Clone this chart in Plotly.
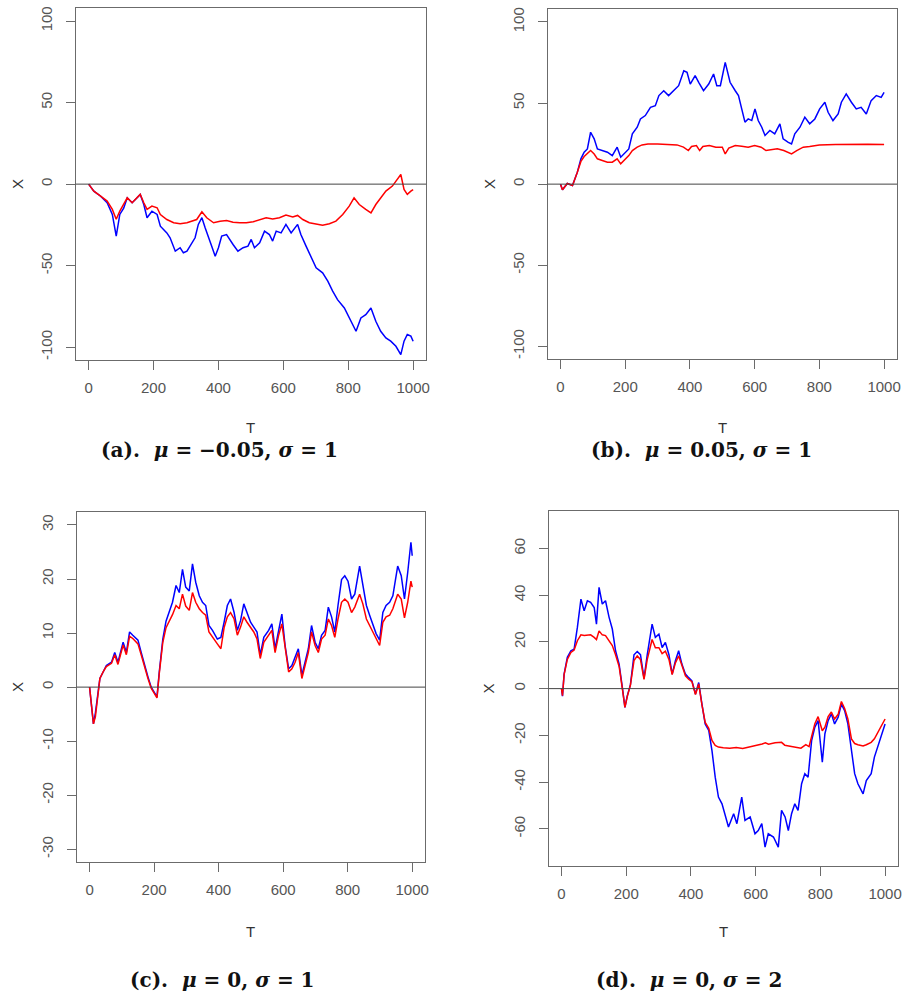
import plotly.graph_objects as go

# ---------------- data ----------------
# Panel (a): mu=-0.05, sigma=1
a_T_blue = [0, 16, 37, 57, 73, 85, 96, 108, 119, 134, 144, 159, 170, 180, 195, 211, 221, 241, 251, 267, 282, 292, 303, 318, 328, 338, 349, 359, 369, 379, 390, 400, 410, 425, 445, 460, 476, 491, 501, 511, 527, 542, 557, 567, 578, 593, 608, 624, 644, 654, 670, 686, 701, 721, 737, 752, 767, 788, 803, 824, 839, 854, 870, 885, 900, 916, 931, 947, 962, 972, 982, 993, 1000]
a_X_blue = [0, -4.3, -7.4, -11.4, -18.6, -31.9, -18.6, -14.8, -8.4, -11.4, -9.4, -6.3, -12.5, -20.6, -16.6, -18.6, -25.8, -29.9, -32.9, -41.1, -39, -42.1, -41.1, -36, -32.9, -24.7, -20.6, -26.8, -31.9, -38, -44.2, -39, -31.9, -30.9, -37, -41.1, -39, -38, -33.9, -39, -36, -28.8, -30.9, -34.9, -28.8, -29.9, -24.7, -29.9, -24.7, -30.9, -38, -45.2, -51.3, -54.4, -59.5, -65.6, -70.8, -75.9, -82, -90.2, -82, -80, -75.9, -84.1, -90.2, -94.3, -96.3, -99.4, -104.5, -96.3, -92.2, -93.2, -96.3]
a_T_red = [0, 16, 37, 57, 73, 85, 96, 108, 119, 134, 144, 159, 170, 180, 195, 211, 221, 241, 262, 282, 303, 333, 349, 364, 385, 405, 425, 445, 466, 486, 507, 527, 547, 567, 588, 608, 629, 644, 660, 680, 701, 721, 742, 762, 783, 803, 818, 834, 854, 870, 885, 900, 916, 936, 951, 962, 972, 982, 993, 1000]
a_X_red = [0, -4.3, -7.4, -10.4, -15.5, -21.5, -16.6, -12.5, -8.4, -11.4, -9.4, -6.3, -11.4, -15.5, -13.5, -14.5, -18.6, -21.7, -23.7, -24.3, -23.7, -21.7, -17, -20.6, -23.7, -22.7, -22.3, -23.3, -23.7, -23.7, -23.1, -21.7, -20.6, -21.3, -20.6, -19, -20.2, -19.2, -21.7, -23.7, -24.7, -25.2, -24.3, -22.7, -18.6, -13.5, -8.4, -12.5, -15.5, -17.6, -12.5, -8.4, -4.3, -1.2, 2.9, 5.9, -3.3, -6.3, -4.3, -3.3]

# Panel (b): mu=0.05, sigma=1
b_T_blue = [0, 6, 21, 37, 52, 63, 73, 83, 93, 104, 114, 129, 145, 160, 175, 186, 201, 211, 222, 237, 247, 262, 278, 293, 304, 319, 334, 350, 365, 381, 391, 401, 416, 427, 442, 458, 473, 483, 494, 509, 524, 540, 550, 560, 570, 580, 591, 601, 611, 622, 632, 647, 662, 678, 688, 704, 714, 724, 740, 755, 770, 786, 801, 817, 827, 842, 858, 868, 883, 899, 914, 929, 945, 960, 976, 991, 1000]
b_X_blue = [0, -3.5, 0.4, -0.8, 7.4, 15.6, 19.7, 21.7, 32, 27.9, 21.7, 20.7, 19.7, 17.6, 22.8, 16.6, 19.7, 21.7, 31, 35.1, 40.2, 42.3, 47.4, 48.4, 54.6, 57.6, 54.6, 57.6, 60.7, 69.9, 68.9, 61.7, 66.9, 62.8, 57.6, 61.7, 67.9, 60.7, 60.7, 75.1, 62.8, 57.6, 54.6, 46.4, 38.2, 40.2, 39.2, 46.4, 39.2, 35.1, 30, 33.1, 31, 37.2, 27.9, 25.8, 24.8, 31, 35.1, 41.3, 37.2, 40.2, 46.4, 50.5, 44.3, 39.2, 43.3, 50.5, 55.6, 50.5, 46.4, 47.4, 43.3, 51.5, 54.6, 53.5, 56.6]
b_T_red = [0, 6, 21, 37, 52, 63, 73, 83, 93, 104, 114, 129, 145, 160, 175, 186, 201, 211, 222, 237, 252, 270, 300, 330, 360, 380, 395, 405, 420, 430, 440, 460, 480, 500, 509, 520, 540, 560, 580, 600, 620, 635, 650, 670, 690, 714, 730, 750, 770, 800, 850, 900, 950, 1000]
b_X_red = [0, -3.5, 0.4, -0.8, 7.4, 14, 17, 19, 20.7, 18.6, 15.6, 14.6, 13.5, 13.5, 15.6, 12.5, 15.6, 17.6, 20.7, 22.8, 24.2, 24.8, 24.8, 24.4, 24.2, 22.8, 20.7, 23.2, 23.8, 20.7, 23.2, 23.8, 22.8, 22.8, 18.6, 22.2, 23.8, 23.4, 22.8, 23.8, 22.8, 20.7, 21.3, 21.8, 20.7, 18.6, 20.7, 22.8, 23.2, 24.2, 24.4, 24.6, 24.6, 24.4]

# Panel (c): mu=0, sigma=1
c_T_blue = [0, 6, 12, 18, 32, 42, 52, 68, 78, 88, 104, 114, 124, 134, 150, 160, 170, 181, 191, 201, 209, 216, 227, 237, 247, 257, 268, 278, 288, 298, 309, 319, 329, 340, 350, 360, 370, 381, 396, 407, 417, 427, 437, 448, 458, 468, 478, 488, 499, 509, 519, 529, 540, 555, 565, 575, 586, 596, 606, 617, 627, 637, 647, 658, 668, 678, 688, 699, 709, 719, 730, 740, 750, 760, 770, 781, 791, 801, 812, 822, 837, 847, 858, 868, 878, 888, 899, 909, 919, 930, 940, 955, 966, 976, 986, 996, 1000]
c_X_blue = [0, -3.5, -6.8, -4.8, 1.6, 2.8, 4, 4.6, 6.4, 4.6, 8.3, 6.4, 10.2, 9.6, 8.7, 6.4, 4, 1.9, 0, -0.9, -1.8, 2.8, 8.9, 12.2, 13.8, 15.7, 18.8, 17.5, 21.8, 18.5, 17.8, 22.8, 19.4, 16.9, 15.7, 15.1, 11.4, 10.5, 8.9, 9.2, 12, 15.1, 16.3, 13.8, 10.5, 12.3, 15.4, 13.8, 12, 11.1, 10.2, 5.9, 9.2, 10.5, 11.7, 7.1, 10.8, 13.5, 7.7, 3.4, 4, 5.5, 7.1, 2.2, 4.6, 7.1, 11.4, 8.3, 7.1, 9.6, 10.5, 14.8, 13, 10.2, 15.1, 19.9, 20.6, 19.6, 16.3, 17.2, 22.4, 18.8, 15.1, 13.3, 11.7, 9.9, 8.7, 13.8, 15.1, 15.7, 16.9, 22.4, 20.6, 16.3, 21.2, 26.8, 24.3]
c_T_red = c_T_blue
c_X_red = [0, -3.5, -6.8, -5.5, 1.6, 2.8, 3.8, 4.4, 6, 4.2, 7.8, 6, 9.4, 9, 8, 6, 3.8, 1.6, -0.2, -1.2, -2, 2.5, 8.3, 11, 12.2, 13.4, 15.1, 14.5, 17.2, 15, 14.2, 17.5, 15.7, 14.5, 13.8, 13.3, 10.2, 9.2, 8, 7.1, 11, 13, 13.8, 12.6, 9.6, 11.1, 13, 12, 11.1, 10.2, 8.9, 5.3, 8.3, 9.6, 10.5, 6.4, 9.6, 11.7, 7.1, 2.8, 3.4, 4.6, 6.4, 1.6, 4, 6.4, 10.2, 7.7, 6.4, 8.9, 9.6, 12.6, 11.4, 9.2, 12.6, 15.7, 16.3, 15.7, 13.8, 14.8, 17.2, 15.4, 12.6, 11.4, 10.2, 8.9, 7.7, 12, 13, 13.3, 14.5, 17.2, 16.3, 12.8, 15.7, 19.6, 18.5]

# Panel (d): mu=0, sigma=2
d_T_blue = [0, 3, 8, 18, 29, 39, 49, 60, 70, 80, 90, 101, 108, 116, 126, 136, 147, 157, 167, 178, 188, 196, 203, 213, 224, 234, 244, 255, 265, 275, 280, 290, 301, 311, 321, 332, 342, 352, 362, 372, 383, 393, 403, 414, 424, 434, 444, 455, 465, 475, 485, 496, 506, 516, 532, 542, 557, 567, 583, 598, 608, 619, 629, 639, 655, 670, 680, 691, 701, 711, 721, 731, 742, 752, 762, 773, 783, 793, 806, 814, 824, 834, 844, 855, 865, 875, 885, 896, 906, 916, 932, 942, 957, 967, 983, 993, 1000]
d_X_blue = [0, -3.2, 6.2, 13.4, 16.2, 16.9, 26.2, 38.3, 33.3, 37.6, 36.9, 34.7, 27.6, 43.3, 36.2, 37.6, 30.5, 25.5, 16.2, 10.5, 0.5, -8, -3.2, 1.7, 14.5, 15.9, 14.5, 4.4, 14.5, 23.3, 27.6, 21.9, 23.3, 17.6, 19.8, 14.5, 6.2, 11.9, 16.2, 10.5, 6.2, 4.7, 3.3, -2.3, 2.6, -6.6, -15.1, -17.9, -26.5, -37.9, -46.4, -49.3, -54.9, -59.2, -53.5, -57.8, -46.4, -56.4, -54.9, -62.1, -60.7, -57.8, -67.8, -62.1, -63.5, -67.8, -52.1, -54.9, -60.7, -53.5, -49.3, -52.1, -40.7, -36.4, -37.9, -22.2, -16.5, -13.7, -31.5, -19.3, -13.7, -10.8, -15.1, -12.2, -6.6, -9.4, -15.1, -26.5, -36.4, -40.7, -45, -39.3, -36.4, -29.3, -22.2, -17.9, -15.1]
d_T_red = [0, 3, 8, 18, 29, 39, 49, 60, 70, 80, 90, 101, 108, 116, 126, 136, 147, 157, 167, 178, 188, 196, 203, 213, 224, 234, 244, 255, 265, 275, 280, 290, 301, 311, 321, 332, 342, 352, 362, 372, 383, 393, 403, 414, 424, 434, 444, 455, 465, 475, 485, 500, 520, 540, 560, 580, 600, 620, 630, 640, 660, 680, 690, 700, 720, 740, 755, 765, 773, 783, 793, 806, 814, 824, 834, 844, 855, 865, 875, 885, 896, 906, 916, 932, 942, 957, 967, 983, 993, 1000]
d_X_red = [0, -3, 6, 12.5, 15.5, 16.5, 20.5, 23, 22.7, 23, 23, 21.9, 21, 24.7, 23, 22.7, 20.5, 18.4, 14.5, 9.5, 0, -8, -3.5, 1.5, 12, 14, 12.5, 4, 12.5, 18, 21, 17.5, 17.5, 15, 16, 12.5, 6, 11, 14, 10, 5.5, 4, 3, -2.5, 2, -7, -14.5, -17, -22.2, -24.3, -25, -25.3, -25.5, -25.2, -25.6, -25, -24.5, -23.7, -23.2, -23.8, -23.2, -23, -24.2, -24.5, -25, -25.5, -24, -24.8, -20.5, -15, -12, -18, -16.5, -12, -10, -13, -11, -5.5, -8.5, -13, -21.5, -23.5, -24, -24.5, -24, -23, -21.5, -17.5, -14.5, -13]

x_ticks = [0, 200, 400, 600, 800, 1000]
a_y_ticks = [-100, -50, 0, 50, 100]
b_y_ticks = [-100, -50, 0, 50, 100]
c_y_ticks = [-30, -20, -10, 0, 10, 20, 30]
d_y_ticks = [-60, -40, -20, 0, 20, 40, 60]

captions = [
    "(a).  <i>μ</i> = −0.05, <i>σ</i> = 1",
    "(b).  <i>μ</i> = 0.05, <i>σ</i> = 1",
    "(c).  <i>μ</i> = 0, <i>σ</i> = 1",
    "(d).  <i>μ</i> = 0, <i>σ</i> = 2",
]

# ---------------- layout helpers ----------------
W, H = 908, 996

def px_x(p):
    return p / W

def px_y(p):
    return 1 - p / H

# plot boxes in pixels (left, right, top, bottom)
boxes = [
    (76, 428, 6, 359),
    (550, 901, 7, 358),
    (77, 427, 511, 862),
    (551, 902, 510, 866),
]
yranges = [[-108, 108], [-108, 108], [-32.4, 32.4], [-76, 76]]
yticks = [a_y_ticks, b_y_ticks, c_y_ticks, d_y_ticks]
series = [
    (a_T_blue, a_X_blue, a_T_red, a_X_red),
    (b_T_blue, b_X_blue, b_T_red, b_X_red),
    (c_T_blue, c_X_blue, c_T_red, c_X_red),
    (d_T_blue, d_X_blue, d_T_red, d_X_red),
]

fig = go.Figure()
axis_gray = "#6b6b6b"
tick_font = dict(family="Liberation Sans, Arial, sans-serif", size=15, color="#555555")

layout = dict(
    width=W, height=H,
    margin=dict(l=0, r=0, t=0, b=0),
    paper_bgcolor="white", plot_bgcolor="white",
    showlegend=False,
    annotations=[], shapes=[],
)

for i, (box, yr, yt, s) in enumerate(zip(boxes, yranges, yticks, series)):
    n = i + 1
    xa = "xaxis" if n == 1 else f"xaxis{n}"
    ya = "yaxis" if n == 1 else f"yaxis{n}"
    xr = "x" if n == 1 else f"x{n}"
    yrf = "y" if n == 1 else f"y{n}"
    l, r, t, b = box
    layout[xa] = dict(
        domain=[px_x(l), px_x(r)], range=[-40, 1040], anchor=yrf,
        tickmode="array", tickvals=x_ticks, ticktext=[str(v) for v in x_ticks],
        ticks="outside", ticklen=9, tickcolor=axis_gray, tickwidth=1,
        showline=True, linecolor=axis_gray, linewidth=1, mirror=True,
        showgrid=False, zeroline=False, tickfont=tick_font,
        ticklabelstandoff=5, fixedrange=True,
    )
    layout[ya] = dict(
        domain=[px_y(b), px_y(t)], range=yr, anchor=xr,
        tickmode="array", tickvals=yt, ticktext=[str(v) for v in yt],
        ticks="outside", ticklen=9, tickcolor=axis_gray, tickwidth=1,
        showline=True, linecolor=axis_gray, linewidth=1, mirror=True,
        showgrid=False, zeroline=False, tickfont=tick_font, tickangle=-90,
        ticklabelstandoff=8, fixedrange=True,
    )
    Tb, Xb, Tr, Xr = s
    fig.add_trace(go.Scatter(x=Tb, y=Xb, mode="lines", line=dict(color="#0000ff", width=1.5),
                             xaxis=xr, yaxis=yrf, hoverinfo="skip"))
    fig.add_trace(go.Scatter(x=Tr, y=Xr, mode="lines", line=dict(color="#ff0000", width=1.5),
                             xaxis=xr, yaxis=yrf, hoverinfo="skip"))
    # horizontal line at 0 across the plot region
    layout["shapes"].append(dict(type="line", xref=f"{xr} domain", yref=yrf,
                                 x0=0, x1=1, y0=0, y1=0,
                                 line=dict(color="#444444", width=1)))
    # axis titles
    top = i < 2
    t_y = 426 if top else 931
    x_x = 17 if i % 2 == 0 else 491
    layout["annotations"].append(dict(text="T", xref="paper", yref="paper",
                                      x=px_x((l + r) / 2), y=px_y(t_y), showarrow=False,
                                      xanchor="center", yanchor="middle",
                                      font=dict(family="Liberation Sans, Arial, sans-serif", size=15, color="#333333")))
    layout["annotations"].append(dict(text="X", xref="paper", yref="paper",
                                      x=px_x(x_x), y=px_y((t + b) / 2), showarrow=False,
                                      xanchor="center", yanchor="middle", textangle=-90,
                                      font=dict(family="Liberation Sans, Arial, sans-serif", size=15, color="#333333")))

cap_pos = [(220, 449), (705, 449), (223, 980), (692, 980)]
for cap, (cx, cy) in zip(captions, cap_pos):
    layout["annotations"].append(dict(text=f"<b>{cap}</b>", xref="paper", yref="paper",
                                      x=px_x(cx), y=px_y(cy), showarrow=False,
                                      xanchor="center", yanchor="middle",
                                      font=dict(family="DejaVu Serif, Liberation Serif, serif", size=20, color="#111111")))

fig.update_layout(**layout)
fig.write_html("out.html",
               config={"displayModeBar": False, "staticPlot": True},
               post_script="document.body.style.margin='0';document.body.style.overflow='hidden';")
